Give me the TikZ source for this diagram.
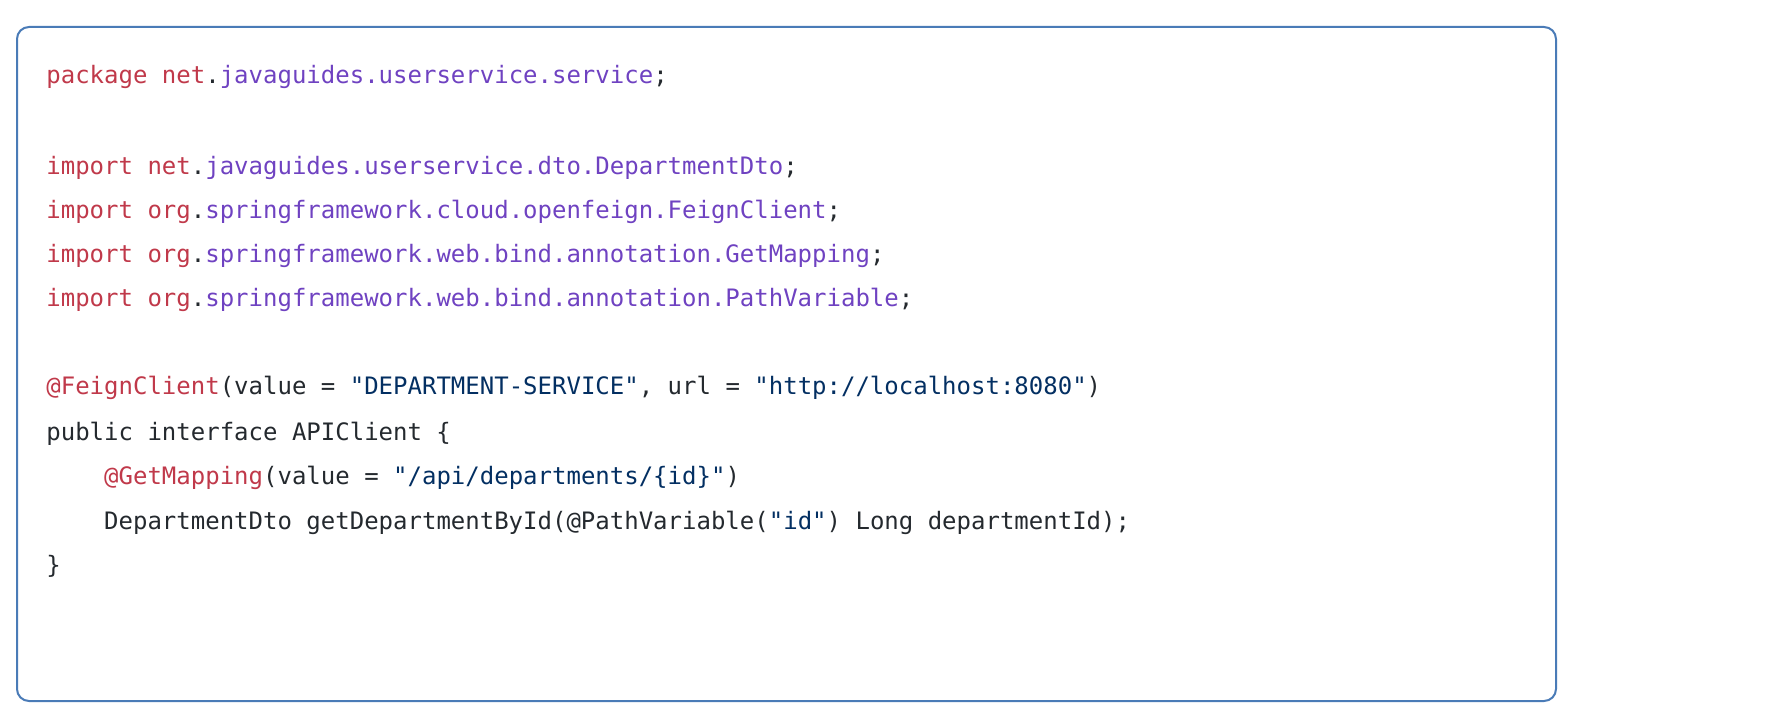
\documentclass[tikz,border=0pt]{standalone}
\usepackage{fontspec}
\setmonofont{DejaVu Sans Mono}
\definecolor{kw}{HTML}{C0394A}
\definecolor{pk}{HTML}{6F42C1}
\definecolor{st}{HTML}{032F62}
\definecolor{tx}{HTML}{24292E}
\definecolor{bd}{HTML}{4A7BB7}
\newcommand{\Kw}[1]{\textcolor{kw}{#1}}
\newcommand{\Pk}[1]{\textcolor{pk}{#1}}
\newcommand{\Sq}[1]{\textcolor{st}{#1}}
\begin{document}
\begin{tikzpicture}[x=0.5pt,y=-0.5pt,
  codeline/.style={anchor=base west,inner sep=0pt,font=\fontsize{12}{14}\ttfamily,text=tx}]
\useasboundingbox (0,0) rectangle (1772,716);
\node[draw=bd,line width=1pt,rounded corners=6pt,minimum width=769.5pt,minimum height=337pt,anchor=north west,inner sep=0pt] (box) at (16,26) {};
\node[codeline] (l1) at (46,84) {\Kw{package} \Kw{net}.\Pk{javaguides.userservice.service};};
\node[codeline] (l2) at (46,175) {\Kw{import} \Kw{net}.\Pk{javaguides.userservice.dto.DepartmentDto};};
\node[codeline] (l3) at (46,219) {\Kw{import} \Kw{org}.\Pk{springframework.cloud.openfeign.FeignClient};};
\node[codeline] (l4) at (46,263) {\Kw{import} \Kw{org}.\Pk{springframework.web.bind.annotation.GetMapping};};
\node[codeline] (l5) at (46,307) {\Kw{import} \Kw{org}.\Pk{springframework.web.bind.annotation.PathVariable};};
\node[codeline] (l6) at (46,395) {\Kw{@FeignClient}(value = \Sq{"DEPARTMENT-SERVICE"}, url = \Sq{"http://localhost:8080"})};
\node[codeline] (l7) at (46,441) {public interface APIClient \{};
\node[codeline] (l8) at (46,485) {\phantom{xxxx}\Kw{@GetMapping}(value = \Sq{"/api/departments/\{id\}"})};
\node[codeline] (l9) at (46,529) {\phantom{xxxx}DepartmentDto getDepartmentById(@PathVariable(\Sq{"id"}) Long departmentId);};
\node[codeline] (l10) at (46,573) {\}};
\end{tikzpicture}
\end{document}
